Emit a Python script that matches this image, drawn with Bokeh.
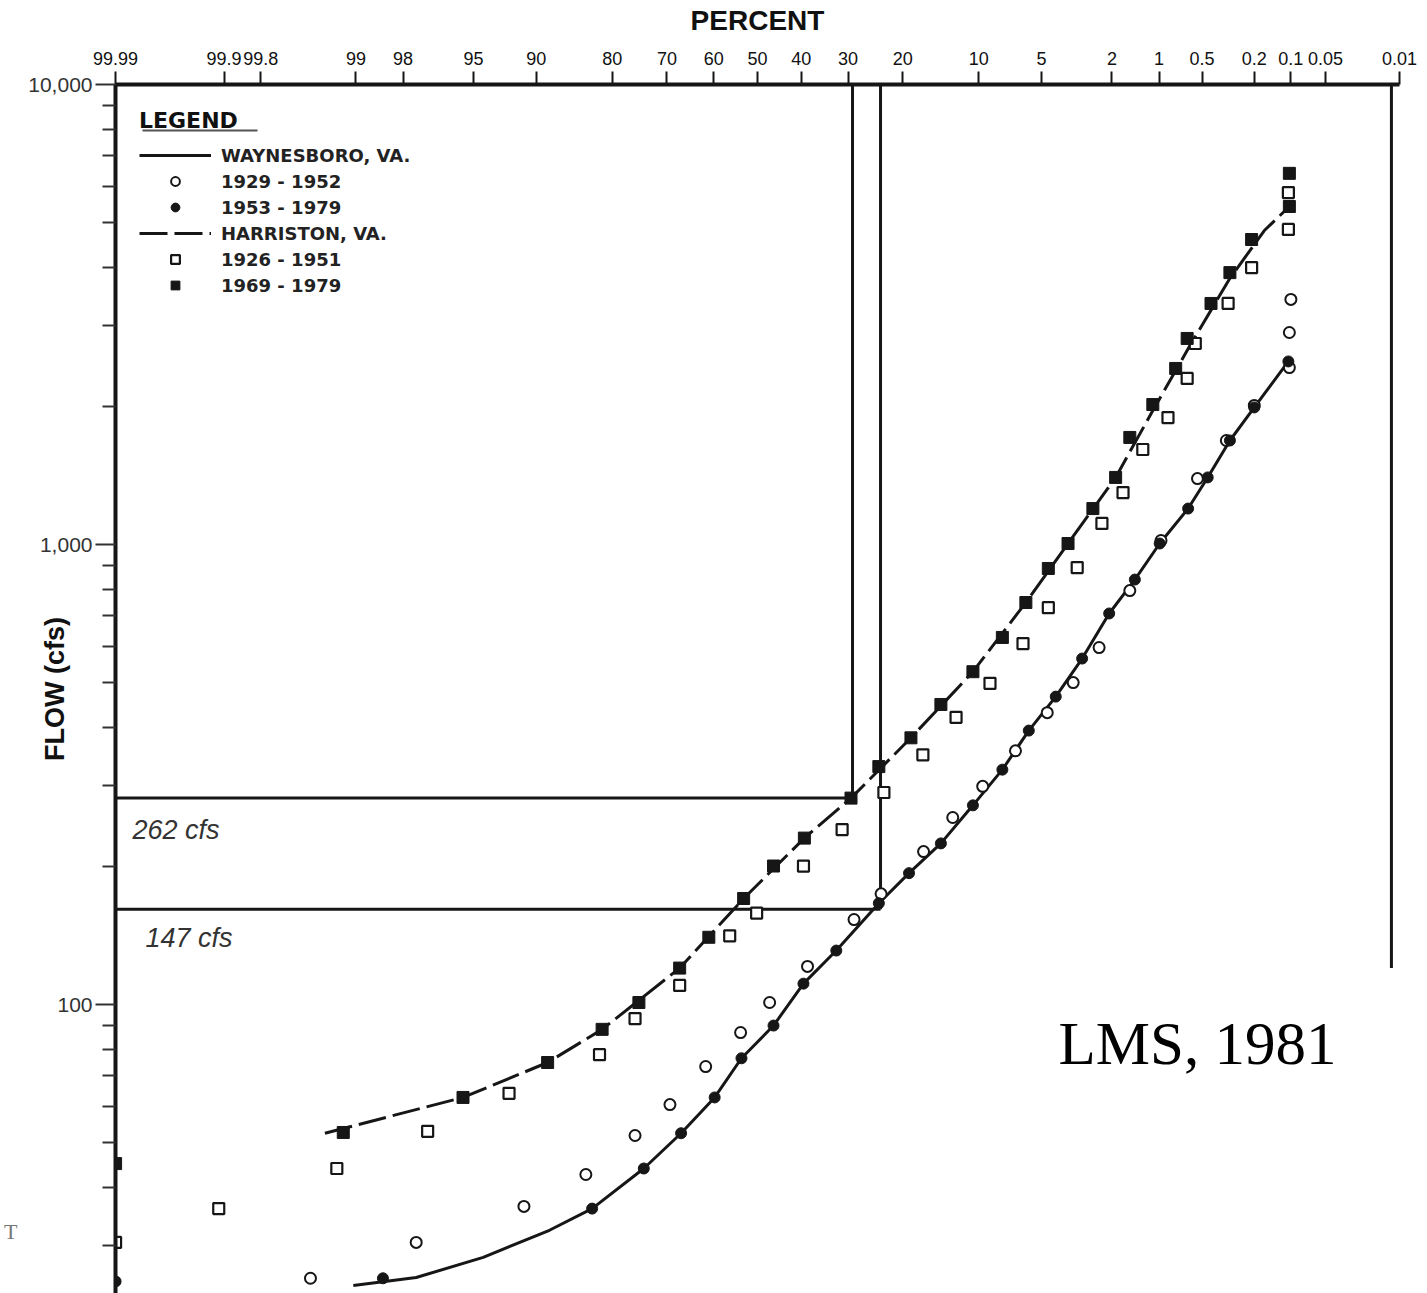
import math
from statistics import NormalDist
from bokeh.plotting import figure
from bokeh.models import FixedTicker, Legend, LegendItem, Label, Range1d, LogAxis
from bokeh.embed import file_html
from bokeh.resources import INLINE

# ---------------- data ----------------
percent_ticks = [99.99, 99.9, 99.8, 99, 98, 95, 90, 80, 70, 60, 50, 40, 30, 20,
                 10, 5, 2, 1, 0.5, 0.2, 0.1, 0.05, 0.01]
percent_tick_labels = ["99.99", "99.9", "99.8", "99", "98", "95", "90", "80", "70", "60",
                       "50", "40", "30", "20", "10", "5", "2", "1", "0.5", "0.2", "0.1",
                       "0.05", "0.01"]
flow_ticks = [100, 1000, 10000]
flow_tick_labels = ["100", "1,000", "10,000"]
flow_minor_ticks = [30, 40, 50, 60, 70, 80, 90,
                    200, 300, 400, 500, 600, 700, 800, 900,
                    2000, 3000, 4000, 5000, 6000, 7000, 8000, 9000]

# Waynesboro, VA. 1929-1952 (open circles)
wayn_old_pct = [99.52, 97.6, 91.2, 84.0, 76.1, 69.4, 61.8, 53.9, 47.2, 38.6, 28.8, 23.7,
                16.8, 12.9, 9.6, 6.75, 4.66, 3.37, 2.39, 1.55, 0.97, 0.54, 0.33, 0.20,
                0.103, 0.103, 0.10]
wayn_old_flow = [25.4, 30.4, 36.4, 42.7, 51.9, 60.6, 73.3, 86.9, 101, 121, 153, 174,
                 215, 255, 298, 356, 431, 501, 597, 794, 1020, 1391, 1683, 2006,
                 2425, 2890, 3410]

# Waynesboro, VA. 1953-1979 (filled circles)
wayn_new_pct = [99.99, 98.5, 83.1, 74.5, 67.1, 59.8, 53.7, 46.3, 39.5, 32.4, 24.1, 19.0,
                14.4, 10.6, 7.8, 5.8, 4.2, 3.0, 2.08, 1.44, 0.99, 0.63, 0.455, 0.31,
                0.20, 0.105]
wayn_new_flow = [25.0, 25.4, 36.0, 44.0, 52.5, 62.8, 76.4, 90.0, 111, 131, 166, 193,
                 224, 271, 324, 394, 467, 565, 708, 839, 1005, 1197, 1399, 1683,
                 1986, 2500]

# Waynesboro fitted curve (solid)
wayn_curve_pct = [99.04, 97.6, 94.4, 88.6, 83.1, 74.5, 67.1, 59.8, 53.7, 46.3, 39.5, 32.4,
                  24.1, 19.0, 14.4, 10.6, 7.8, 5.8, 4.2, 3.0, 2.08, 1.44, 0.99, 0.63,
                  0.455, 0.31, 0.20, 0.105]
wayn_curve_flow = [24.5, 25.5, 28.2, 32.3, 36.0, 44.0, 52.5, 62.8, 76.4, 90.0, 111, 131,
                   166, 193, 224, 271, 324, 394, 467, 565, 708, 839, 1005, 1197,
                   1399, 1683, 1986, 2500]

# Harriston, VA. 1926-1951 (open squares)
harr_old_pct = [99.99, 99.91, 99.26, 97.2, 92.5, 82.0, 76.1, 67.4, 56.4, 50.2, 39.5, 31.2,
                23.2, 16.9, 12.5, 8.9, 6.2, 4.6, 3.2, 2.3, 1.71, 1.28, 0.87, 0.64, 0.56,
                0.32, 0.21, 0.105, 0.105]
harr_old_flow = [30.4, 36.0, 44.0, 53.0, 64.1, 77.8, 93.2, 110, 141, 158, 200, 240,
                 289, 349, 421, 499, 609, 729, 891, 1111, 1297, 1609, 1888, 2296, 2735,
                 3342, 4000, 4840, 5823]

# Harriston, VA. 1969-1979 (filled squares)
harr_new_pct = [99.99, 99.18, 95.6, 88.8, 81.6, 75.4, 67.4, 61.1, 53.2, 46.3, 39.3, 29.4,
                24.1, 18.7, 14.4, 10.6, 7.8, 6.0, 4.6, 3.6, 2.6, 1.9, 1.55, 1.10, 0.77,
                0.64, 0.43, 0.31, 0.21, 0.103, 0.103]
harr_new_flow = [45.1, 52.7, 62.8, 74.8, 88.3, 101, 120, 140, 170, 200, 230, 281,
                 329, 380, 449, 529, 628, 748, 887, 1005, 1197, 1399, 1709, 2015, 2414,
                 2805, 3342, 3900, 4603, 5430, 6410]

# Harriston fitted curve (dashed)
harr_curve_pct = [99.39, 95.6, 88.8, 81.6, 67.4, 53.2, 39.3, 29.4, 18.7, 10.6, 6.0, 3.6,
                  1.9, 1.10, 0.61, 0.31, 0.166, 0.103]
harr_curve_flow = [52.5, 62.8, 74.8, 88.3, 120, 170, 230, 281, 380, 529, 748, 1005,
                   1399, 1955, 2710, 3790, 4815, 5430]

# reference lines (262 cfs and 147 cfs read-offs)
guide_flows = [281, 161]
guide_pcts = [29.1, 23.8]
frame_right_pct = 0.012
frame_right_low_flow = 120

# ---------------- layout ----------------
ND = NormalDist()


def pz(pct):
    """probability-paper position of an exceedance percentage"""
    return ND.inv_cdf(1.0 - pct / 100.0)


W, H = 1427, 1293
BL, BT, BR, BB = 115, 84, 28, 0
Z_LIM = 3.7195
FLOW_TOP = 10000.0
PX_PER_DECADE = 460.0
FLOW_BOTTOM = FLOW_TOP / 10 ** ((H - BT - BB) / PX_PER_DECADE)


def ax(px):
    return -Z_LIM + (px - BL) * 2 * Z_LIM / (W - BL - BR)


def ay(py):
    return FLOW_TOP / 10 ** ((py - BT) / PX_PER_DECADE)


p = figure(width=W, height=H, output_backend="svg", toolbar_location=None,
           x_range=Range1d(-Z_LIM, Z_LIM), y_range=Range1d(FLOW_BOTTOM, FLOW_TOP),
           y_axis_type="log", x_axis_location="above",
           min_border_left=BL, min_border_top=BT, min_border_right=BR,
           min_border_bottom=BB)
p.grid.grid_line_color = None
p.outline_line_color = None
p.background_fill_color = "white"
p.border_fill_color = "white"

INK = "#161616"

# top (percent) axis
xa = p.xaxis[0]
xa.ticker = FixedTicker(ticks=[pz(v) for v in percent_ticks], minor_ticks=[])
xa.major_label_overrides = {pz(v): lab for v, lab in zip(percent_ticks, percent_tick_labels)}
xa.axis_line_width = 4
xa.axis_line_color = INK
xa.major_tick_out = 13
xa.major_tick_in = 0
xa.major_tick_line_width = 2
xa.major_tick_line_color = INK
xa.minor_tick_line_color = None
xa.major_label_standoff = 7
xa.major_label_text_font = "Liberation Sans"
xa.major_label_text_font_size = "18px"
xa.major_label_text_color = "#111111"
xa.axis_label = "PERCENT"
xa.axis_label_standoff = 13
xa.axis_label_text_font = "Liberation Sans"
xa.axis_label_text_font_style = "bold"
xa.axis_label_text_font_size = "28px"
xa.axis_label_text_color = "#111111"

# left (flow) axis
ya = p.yaxis[0]
ya.ticker = FixedTicker(ticks=flow_ticks, minor_ticks=flow_minor_ticks)
ya.major_label_overrides = dict(zip(flow_ticks, flow_tick_labels))
ya.axis_line_width = 4
ya.axis_line_color = INK
ya.major_tick_out = 20
ya.major_tick_in = 0
ya.major_tick_line_width = 2
ya.major_tick_line_color = "#333333"
ya.minor_tick_out = 13
ya.minor_tick_in = 0
ya.minor_tick_line_width = 2
ya.minor_tick_line_color = "#333333"
ya.major_label_standoff = 3
ya.major_label_text_font = "Liberation Sans"
ya.major_label_text_font_size = "21px"
ya.major_label_text_color = "#333333"
ya.axis_label = "FLOW (cfs)"
ya.axis_label_standoff = -45
ya.axis_label_text_font = "Liberation Sans"
ya.axis_label_text_font_style = "bold"
ya.axis_label_text_font_size = "27px"
ya.axis_label_text_color = "#111111"

# stray scan letter at the far left, carried by an outer axis
t_flow = ay(1231)
t_axis = LogAxis(ticker=FixedTicker(ticks=[t_flow], minor_ticks=[]),
                 major_label_overrides={t_flow: "T"})
t_axis.axis_line_color = None
t_axis.major_tick_line_color = None
t_axis.minor_tick_line_color = None
t_axis.major_label_standoff = 14
t_axis.major_label_text_font = "Liberation Serif"
t_axis.major_label_text_font_size = "22px"
t_axis.major_label_text_color = "#777777"
p.add_layout(t_axis, "left")

# guide lines (read-offs) and right frame line
x_left = pz(99.99)
p.segment(x0=[x_left, x_left], y0=guide_flows,
          x1=[pz(v) for v in guide_pcts], y1=guide_flows,
          line_color=INK, line_width=3)
p.segment(x0=[pz(v) for v in guide_pcts], y0=guide_flows,
          x1=[pz(v) for v in guide_pcts], y1=[FLOW_TOP, FLOW_TOP],
          line_color=INK, line_width=3)
p.segment(x0=[pz(frame_right_pct)], y0=[frame_right_low_flow],
          x1=[pz(frame_right_pct)], y1=[FLOW_TOP], line_color=INK, line_width=3)

# curves
r_wline = p.line([pz(v) for v in wayn_curve_pct], wayn_curve_flow,
                 line_color=INK, line_width=3)
r_hline = p.line([pz(v) for v in harr_curve_pct], harr_curve_flow,
                 line_color=INK, line_width=3, line_dash="28 7")

# points
r_wo = p.scatter([pz(v) for v in wayn_old_pct], wayn_old_flow, marker="circle", size=11,
                 fill_color="white", line_color=INK, line_width=2)
r_ho = p.scatter([pz(v) for v in harr_old_pct], harr_old_flow, marker="square", size=11,
                 fill_color="white", line_color=INK, line_width=2.2)
r_wn = p.scatter([pz(v) for v in wayn_new_pct], wayn_new_flow, marker="circle", size=11,
                 fill_color=INK, line_color=INK)
r_hn = p.scatter([pz(v) for v in harr_new_pct], harr_new_flow, marker="square", size=12,
                 fill_color=INK, line_color=INK)

legend = Legend(items=[
    LegendItem(label="WAYNESBORO, VA.", renderers=[r_wline]),
    LegendItem(label="1929 - 1952", renderers=[r_wo]),
    LegendItem(label="1953 - 1979", renderers=[r_wn]),
    LegendItem(label="HARRISTON, VA.", renderers=[r_hline]),
    LegendItem(label="1926 - 1951", renderers=[r_ho]),
    LegendItem(label="1969 - 1979", renderers=[r_hn]),
], location="top_left", title="LEGEND")
legend.margin = 0
legend.padding = 24
legend.glyph_width = 72
legend.glyph_height = 22
legend.label_height = 22
legend.spacing = 4
legend.label_standoff = 10
legend.label_text_font = "DejaVu Sans"
legend.label_text_font_style = "bold"
legend.label_text_font_size = "18px"
legend.label_text_color = "#222222"
legend.title_text_font = "DejaVu Sans"
legend.title_text_font_style = "bold"
legend.title_text_font_size = "22px"
legend.title_text_color = "#111111"
legend.title_standoff = 11
legend.background_fill_alpha = 0
legend.border_line_alpha = 0
p.add_layout(legend)

# underline of the legend title
p.segment(x0=[ax(142)], y0=[ay(130)], x1=[ax(257)], y1=[ay(130)],
          line_color="#555555", line_width=2)

# texts inside the frame
p.add_layout(Label(x=ax(132), y=ay(829), text="262 cfs", text_font="Liberation Sans",
                   text_font_style="italic", text_font_size="27px", text_color="#333333",
                   text_baseline="alphabetic"))
p.add_layout(Label(x=ax(145), y=ay(937), text="147 cfs", text_font="Liberation Sans",
                   text_font_style="italic", text_font_size="27px", text_color="#333333",
                   text_baseline="alphabetic"))
p.add_layout(Label(x=ax(1058), y=ay(1043), text="LMS, 1981", text_font="Liberation Serif",
                   text_font_size="61px", text_color="#000000",
                   text_baseline="alphabetic"))

open("out.html", "w").write(file_html(p, INLINE))
